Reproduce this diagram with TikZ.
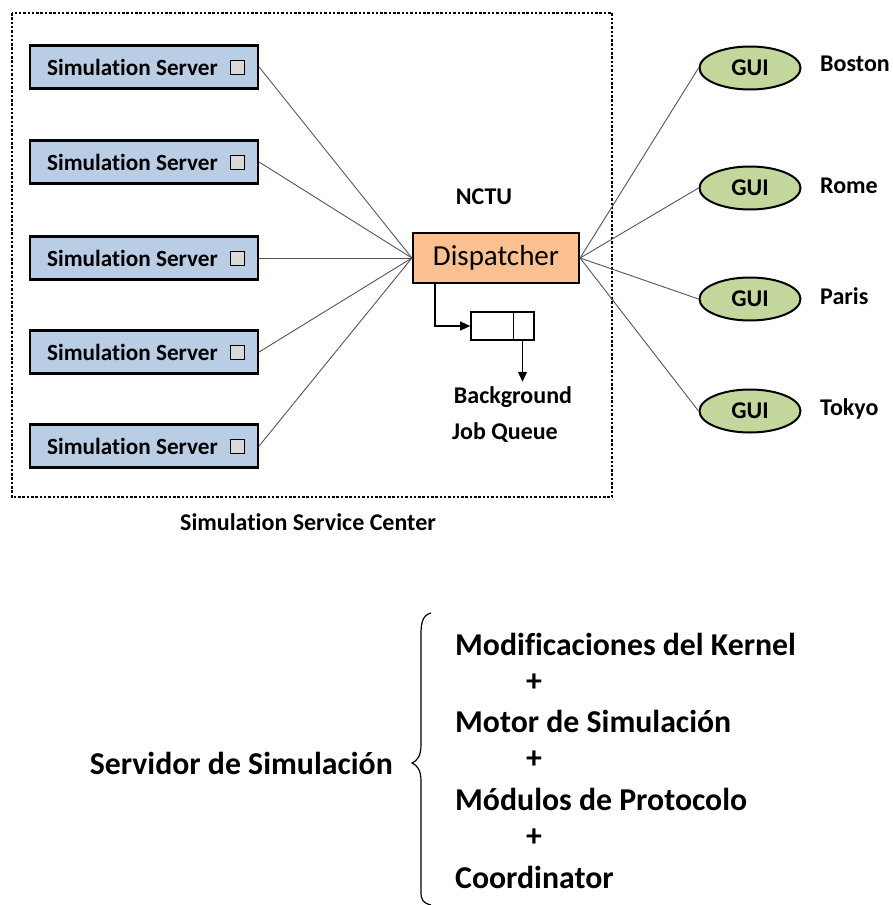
\documentclass[tikz,border=0pt]{standalone}
\usepackage{fontspec}
\setmainfont{Carlito}[Ligatures=CommonOff]
\usetikzlibrary{arrows.meta,shapes.geometric}
\definecolor{serverblue}{HTML}{B9CDE5}
\definecolor{disporange}{HTML}{FAC090}
\definecolor{guigreen}{HTML}{C3D69B}
\definecolor{boxgray}{HTML}{D9D9D9}
\definecolor{linkgray}{HTML}{555555}
\tikzset{
  serverbox/.style={draw, line width=2.2pt, fill=serverblue, minimum width=228pt, minimum height=43pt, inner sep=0pt},
  servertext/.style={anchor=west, inner sep=0pt, font=\bfseries\fontsize{23.2}{27}\selectfont},
  tick/.style={draw, line width=0.9pt, fill=boxgray, minimum size=14pt, inner sep=0pt},
  dispbox/.style={draw, line width=2.2pt, fill=disporange, minimum width=166pt, minimum height=50pt, inner sep=0pt, font=\fontsize{29}{33}\selectfont},
  guinode/.style={ellipse, draw, line width=2pt, fill=guigreen, minimum width=101pt, minimum height=43pt, inner sep=0pt, font=\bfseries\fontsize{24}{28}\selectfont},
  lbl/.style={inner sep=0pt, font=\bfseries\fontsize{24}{28}\selectfont},
  city/.style={anchor=west, inner sep=0pt, font=\bfseries\fontsize{24}{28}\selectfont},
  big/.style={anchor=west, inner sep=0pt, font=\bfseries\fontsize{31.8}{36}\selectfont},
  link/.style={draw=linkgray, line width=0.9pt},
  arr/.style={draw, line width=1.2pt, -{Triangle[length=10pt,width=9pt]}}
}
\begin{document}
\begin{tikzpicture}[x=1pt,y=-1pt]
\useasboundingbox (0,0) rectangle (893,905);

% service center frame
\draw[line width=2.5pt, dash pattern=on 2.5pt off 1.8pt] (12,13) rectangle (612,497);
\node[lbl] (center) at (308,522) {Simulation Service Center};

% simulation servers
\foreach \i/\y in {1/67, 2/162, 3/258, 4/352, 5/446} {
  \node[serverbox] (s\i) at (144,\y) {};
  \node[servertext] (st\i) at (47,\y) {Simulation Server};
  \node[tick] (sq\i) at (237,\y) {};
}

% dispatcher
\node[lbl] (nctu) at (484,197) {NCTU};
\node[dispbox] (disp) at (496,258) {Dispatcher};

\foreach \i in {1,...,5} {
  \draw[link] (s\i.east) -- (disp.west);
}

% background job queue
\node[draw, line width=1.6pt, minimum width=63pt, minimum height=28pt, inner sep=0pt] (q) at (502.5,326) {};
\draw[line width=1.6pt] ([xshift=11pt]q.north) -- ([xshift=11pt]q.south);
\draw[arr] ([xshift=23pt]disp.south west) |- (q.west);
\draw[arr] ([xshift=20pt]q.south) -- ++(0,41);
\node[lbl] (bg) at (513,397) {Background};
\node[lbl] (jq) at (505,433) {Job Queue};

% remote GUIs
\foreach \i/\y/\c/\cy in {1/68/Boston/64, 2/188/Rome/186, 3/299/Paris/296, 4/411/Tokyo/409} {
  \node[guinode] (g\i) at (750,\y) {GUI};
  \node[city] (c\i) at (820,\cy) {\c};
  \draw[link] (disp.east) -- (g\i.west);
}

% server composition
\node[big, anchor=east] (serv) at (393,763) {Servidor de Simulación};
\draw[line width=1.2pt] (431,613) .. controls (423,615) and (421,622) .. (421,634)
  -- (421,745) .. controls (421,756) and (417,761) .. (412,763)
  .. controls (417,765) and (421,770) .. (421,781)
  -- (421,892) .. controls (421,900) and (423,903) .. (431,905);
\node[big] (m1) at (455,644) {Modificaciones del Kernel};
\node[big] (p1) at (526,683) {+};
\node[big] (m2) at (455,721) {Motor de Simulación};
\node[big] (p2) at (526,760) {+};
\node[big] (m3) at (455,799) {Módulos de Protocolo};
\node[big] (p3) at (526,838) {+};
\node[big] (m4) at (455,877) {Coordinator};
\end{tikzpicture}
\end{document}
